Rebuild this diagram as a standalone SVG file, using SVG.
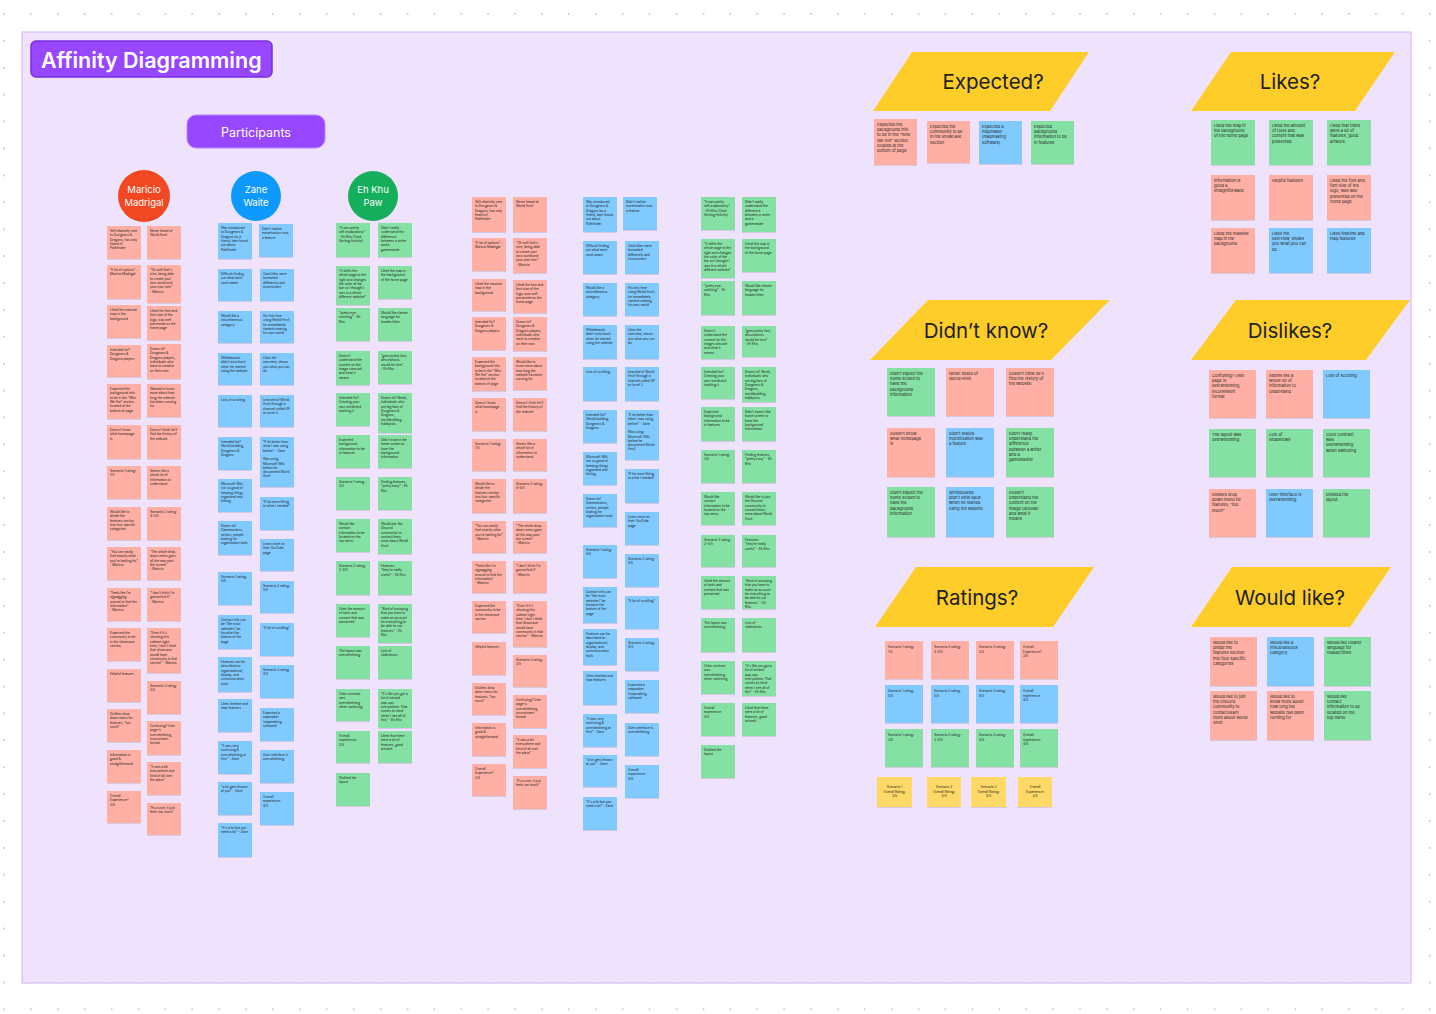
<svg xmlns="http://www.w3.org/2000/svg" width="1436" height="1014" viewBox="0 0 1436 1014">
<defs>
<pattern id="dots" width="26.9" height="26.9" patternUnits="userSpaceOnUse" x="3" y="13">
<circle cx="1" cy="1" r="0.9" fill="#c4c4c4"/>
</pattern>
<filter id="sh" x="-10%" y="-10%" width="130%" height="130%">
<feDropShadow dx="0" dy="0.6" stdDeviation="0.6" flood-color="#000" flood-opacity="0.18"/>
</filter>
</defs>
<style>
.s{fill:#FFAFA3;filter:url(#sh)}
.b{fill:#80CAFF;filter:url(#sh)}
.g{fill:#85E0A3;filter:url(#sh)}
.y{fill:#FFD966;filter:url(#sh)}
.t{font-family:Inter,"Noto Sans","Liberation Sans",sans-serif;font-size:3.2px;fill:#1e1e1e}
.tr{font-family:Inter,"Noto Sans","Liberation Sans",sans-serif;font-size:4.1px;fill:#1e1e1e}
.hd{font-family:Inter,"Noto Sans","Liberation Sans",sans-serif;font-size:20.5px;fill:#1e1e1e;text-anchor:middle}
.par{fill:#FFCD29}
.cn{font-family:Inter,"Noto Sans","Liberation Sans",sans-serif;font-size:9.5px;fill:#fff;text-anchor:middle}
</style>
<rect width="1436" height="1014" fill="#ffffff"/>
<rect width="1436" height="1014" fill="url(#dots)"/>
<rect x="22" y="32" width="1389" height="951" fill="#EFE2FD" stroke="#D7BDF9" stroke-width="1.2"/>

<g id="title">
<rect x="31" y="41" width="241" height="36" rx="5" fill="#9747FF" stroke="#7A2EE0" stroke-width="1.5"/>
<text x="41" y="68" font-family="Inter,'Noto Sans','Liberation Sans',sans-serif" font-size="21.5" font-weight="600" fill="#fff">Affinity Diagramming</text>
</g>
<g id="participants">
<rect x="187" y="115" width="138" height="33" rx="9" fill="#9747FF" stroke="#B98AFF" stroke-width="1"/>
<text x="256" y="136.5" font-family="Inter,'Noto Sans','Liberation Sans',sans-serif" font-size="12.5" fill="#fff" text-anchor="middle">Participants</text>
</g>
<g id="p-maricio"><circle cx="144" cy="196" r="26" fill="#F24822"/><text class="cn"><tspan x="144" y="193">Maricio</tspan><tspan x="144" y="206">Madrigal</tspan></text></g>
<g id="p-zane"><circle cx="256" cy="196" r="25" fill="#0D99FF"/><text class="cn"><tspan x="256" y="193">Zane</tspan><tspan x="256" y="206">Waite</tspan></text></g>
<g id="p-ehkhu"><circle cx="373" cy="196" r="25" fill="#14AE5C"/><text class="cn"><tspan x="373" y="193">Eh Khu</tspan><tspan x="373" y="206">Paw</tspan></text></g>

<g id="connectors"></g>

<!-- Column 1 Maricio -->
<g id="c1l1" transform="translate(107,226)"><rect class="s" width="34" height="33"/><text class="t"><tspan x="3" y="6">Still relatively new</tspan><tspan x="3" dy="4.3">to Dungeons &amp;</tspan><tspan x="3" dy="4.3">Dragons, has only</tspan><tspan x="3" dy="4.3">heard of</tspan><tspan x="3" dy="4.3">Pathfinder</tspan></text></g>
<g id="c1r1" transform="translate(147,226)"><rect class="s" width="34" height="33"/><text class="t"><tspan x="3" y="6">Never heard of</tspan><tspan x="3" dy="4.3">World Anvil</tspan></text></g>
<g id="c1l2" transform="translate(107,265)"><rect class="s" width="34" height="34"/><text class="t"><tspan x="3" y="6">“A lot of options” -</tspan><tspan x="3" dy="4.3">Maricio Madrigal</tspan></text></g>
<g id="c1r2" transform="translate(147,265)"><rect class="s" width="34" height="38"/><text class="t"><tspan x="3" y="6">“Oh well that's</tspan><tspan x="3" dy="4.3">nice, being able</tspan><tspan x="3" dy="4.3">to create your</tspan><tspan x="3" dy="4.3">own world and</tspan><tspan x="3" dy="4.3">your own lore.”</tspan><tspan x="3" dy="4.3">- Maricio</tspan></text></g>
<g id="c1l3" transform="translate(107,305)"><rect class="s" width="34" height="33"/><text class="t"><tspan x="3" y="6">Liked the massive</tspan><tspan x="3" dy="4.3">map in the</tspan><tspan x="3" dy="4.3">background</tspan></text></g>
<g id="c1r3" transform="translate(147,306)"><rect class="s" width="34" height="34"/><text class="t"><tspan x="3" y="6">Liked the font and</tspan><tspan x="3" dy="4.3">font size of the</tspan><tspan x="3" dy="4.3">logo, was well</tspan><tspan x="3" dy="4.3">presented on the</tspan><tspan x="3" dy="4.3">home page</tspan></text></g>
<g id="c1l4" transform="translate(107,345)"><rect class="s" width="34" height="32"/><text class="t"><tspan x="3" y="6">Intended for?</tspan><tspan x="3" dy="4.3">Dungeons &amp;</tspan><tspan x="3" dy="4.3">Dragons players</tspan></text></g>
<g id="c1r4" transform="translate(147,344)"><rect class="s" width="34" height="35"/><text class="t"><tspan x="3" y="6">Drawn to?</tspan><tspan x="3" dy="4.3">Dungeons &amp;</tspan><tspan x="3" dy="4.3">Dragons players,</tspan><tspan x="3" dy="4.3">individuals who</tspan><tspan x="3" dy="4.3">want to creative</tspan><tspan x="3" dy="4.3">on their own</tspan></text></g>
<g id="c1l5" transform="translate(107,384)"><rect class="s" width="34" height="35"/><text class="t"><tspan x="3" y="6">Expected the</tspan><tspan x="3" dy="4.3">background info</tspan><tspan x="3" dy="4.3">to be in the “Who</tspan><tspan x="3" dy="4.3">We Are” section</tspan><tspan x="3" dy="4.3">located at the</tspan><tspan x="3" dy="4.3">bottom of page</tspan></text></g>
<g id="c1r5" transform="translate(147,384)"><rect class="s" width="34" height="33"/><text class="t"><tspan x="3" y="6">Wanted to know</tspan><tspan x="3" dy="4.3">more about how</tspan><tspan x="3" dy="4.3">long the website</tspan><tspan x="3" dy="4.3">has been running</tspan><tspan x="3" dy="4.3">for</tspan></text></g>
<g id="c1l6" transform="translate(107,425)"><rect class="s" width="34" height="34"/><text class="t"><tspan x="3" y="6">Doesn't know</tspan><tspan x="3" dy="4.3">what homepage</tspan><tspan x="3" dy="4.3">is</tspan></text></g>
<g id="c1r6" transform="translate(147,425)"><rect class="s" width="34" height="34"/><text class="t"><tspan x="3" y="6">Doesn't think he'll</tspan><tspan x="3" dy="4.3">find the history of</tspan><tspan x="3" dy="4.3">the website</tspan></text></g>
<g id="c1l7" transform="translate(107,466)"><rect class="s" width="34" height="33"/><text class="t"><tspan x="3" y="6">Scenario 1 rating:</tspan><tspan x="3" dy="4.3">1/5</tspan></text></g>
<g id="c1r7" transform="translate(147,466)"><rect class="s" width="34" height="33"/><text class="t"><tspan x="3" y="6">Seems like a</tspan><tspan x="3" dy="4.3">whole lot of</tspan><tspan x="3" dy="4.3">information to</tspan><tspan x="3" dy="4.3">understand</tspan></text></g>
<g id="c1l8" transform="translate(107,507)"><rect class="s" width="34" height="33"/><text class="t"><tspan x="3" y="6">Would like to</tspan><tspan x="3" dy="4.3">divide the</tspan><tspan x="3" dy="4.3">features section</tspan><tspan x="3" dy="4.3">into four specific</tspan><tspan x="3" dy="4.3">categories</tspan></text></g>
<g id="c1r8" transform="translate(147,507)"><rect class="s" width="34" height="33"/><text class="t"><tspan x="3" y="6">Scenario 2 rating:</tspan><tspan x="3" dy="4.3">4-5/5</tspan></text></g>
<g id="c1l9" transform="translate(107,547)"><rect class="s" width="34" height="33"/><text class="t"><tspan x="3" y="6">“You can easily</tspan><tspan x="3" dy="4.3">find exactly what</tspan><tspan x="3" dy="4.3">you're looking for”</tspan><tspan x="3" dy="4.3">- Maricio</tspan></text></g>
<g id="c1r9" transform="translate(147,547)"><rect class="s" width="34" height="33"/><text class="t"><tspan x="3" y="6">“The whole drop-</tspan><tspan x="3" dy="4.3">down menu goes</tspan><tspan x="3" dy="4.3">all the way past</tspan><tspan x="3" dy="4.3">the screen”</tspan><tspan x="3" dy="4.3">- Maricio</tspan></text></g>
<g id="c1l10" transform="translate(107,588)"><rect class="s" width="34" height="33"/><text class="t"><tspan x="3" y="6">“Feels like I'm</tspan><tspan x="3" dy="4.3">zigzagging</tspan><tspan x="3" dy="4.3">around to find the</tspan><tspan x="3" dy="4.3">information”</tspan><tspan x="3" dy="4.3">- Maricio</tspan></text></g>
<g id="c1r10" transform="translate(147,588)"><rect class="s" width="34" height="33"/><text class="t"><tspan x="3" y="6">“I don't think I'm</tspan><tspan x="3" dy="4.3">gonna find it”</tspan><tspan x="3" dy="4.3">- Maricio</tspan></text></g>
<g id="c1l11" transform="translate(107,628)"><rect class="s" width="34" height="33"/><text class="t"><tspan x="3" y="6">Expected the</tspan><tspan x="3" dy="4.3">community to be</tspan><tspan x="3" dy="4.3">in the showcase</tspan><tspan x="3" dy="4.3">section</tspan></text></g>
<g id="c1r11" transform="translate(147,628)"><rect class="s" width="34" height="45"/><text class="t"><tspan x="3" y="6">“Even if it's</tspan><tspan x="3" dy="4.3">showing this</tspan><tspan x="3" dy="4.3">subtext right</tspan><tspan x="3" dy="4.3">here, I don't think</tspan><tspan x="3" dy="4.3">that showcase</tspan><tspan x="3" dy="4.3">would have</tspan><tspan x="3" dy="4.3">community in that</tspan><tspan x="3" dy="4.3">section” - Maricio</tspan></text></g>
<g id="c1l12" transform="translate(107,669)"><rect class="s" width="34" height="33"/><text class="t"><tspan x="3" y="6">Helpful features</tspan></text></g>
<g id="c1r12" transform="translate(147,681)"><rect class="s" width="34" height="33"/><text class="t"><tspan x="3" y="6">Scenario 3 rating:</tspan><tspan x="3" dy="4.3">3/5</tspan></text></g>
<g id="c1l13" transform="translate(107,709)"><rect class="s" width="34" height="33"/><text class="t"><tspan x="3" y="6">Dislikes drop</tspan><tspan x="3" dy="4.3">down menu for</tspan><tspan x="3" dy="4.3">features, “too</tspan><tspan x="3" dy="4.3">much”</tspan></text></g>
<g id="c1r13" transform="translate(147,721)"><rect class="s" width="34" height="34"/><text class="t"><tspan x="3" y="6">Confusing? User</tspan><tspan x="3" dy="4.3">page is</tspan><tspan x="3" dy="4.3">overwhelming,</tspan><tspan x="3" dy="4.3">inconsistent</tspan><tspan x="3" dy="4.3">format</tspan></text></g>
<g id="c1l14" transform="translate(107,750)"><rect class="s" width="34" height="33"/><text class="t"><tspan x="3" y="6">Information is</tspan><tspan x="3" dy="4.3">good &amp;</tspan><tspan x="3" dy="4.3">straightforward</tspan></text></g>
<g id="c1r14" transform="translate(147,762)"><rect class="s" width="34" height="33"/><text class="t"><tspan x="3" y="6">“It was a bit</tspan><tspan x="3" dy="4.3">everywhere and</tspan><tspan x="3" dy="4.3">kind of all over</tspan><tspan x="3" dy="4.3">the place”</tspan></text></g>
<g id="c1l15" transform="translate(107,791)"><rect class="s" width="34" height="32"/><text class="t"><tspan x="3" y="6">Overall</tspan><tspan x="3" dy="4.3">Experience?</tspan><tspan x="3" dy="4.3">3/5</tspan></text></g>
<g id="c1r15" transform="translate(147,803)"><rect class="s" width="34" height="32"/><text class="t"><tspan x="3" y="6">“As a user, it just</tspan><tspan x="3" dy="4.3">feels too much”</tspan></text></g>

<!-- Column 2 Zane -->
<g id="c2l1" transform="translate(218,223)"><rect class="b" width="34" height="36"/><text class="t"><tspan x="3" y="6">Was introduced</tspan><tspan x="3" dy="4.3">to Dungeons &amp;</tspan><tspan x="3" dy="4.3">Dragons by a</tspan><tspan x="3" dy="4.3">friend, later found</tspan><tspan x="3" dy="4.3">out about</tspan><tspan x="3" dy="4.3">Pathfinder</tspan></text></g>
<g id="c2r1" transform="translate(259,224)"><rect class="b" width="34" height="33"/><text class="t"><tspan x="3" y="6">Didn't realize</tspan><tspan x="3" dy="4.3">monetization was</tspan><tspan x="3" dy="4.3">a feature</tspan></text></g>
<g id="c2l2" transform="translate(218,269)"><rect class="b" width="34" height="32"/><text class="t"><tspan x="3" y="6">Difficult finding</tspan><tspan x="3" dy="4.3">out what each</tspan><tspan x="3" dy="4.3">card meant</tspan></text></g>
<g id="c2r2" transform="translate(260,269)"><rect class="b" width="34" height="32"/><text class="t"><tspan x="3" y="6">Card titles were</tspan><tspan x="3" dy="4.3">formatted</tspan><tspan x="3" dy="4.3">differently and</tspan><tspan x="3" dy="4.3">inconsistent</tspan></text></g>
<g id="c2l3" transform="translate(218,311)"><rect class="b" width="34" height="32"/><text class="t"><tspan x="3" y="6">Would like a</tspan><tspan x="3" dy="4.3">miscellaneous</tspan><tspan x="3" dy="4.3">category</tspan></text></g>
<g id="c2r3" transform="translate(260,311)"><rect class="b" width="34" height="32"/><text class="t"><tspan x="3" y="6">His first time</tspan><tspan x="3" dy="4.3">using World Anvil,</tspan><tspan x="3" dy="4.3">he immediately</tspan><tspan x="3" dy="4.3">started creating</tspan><tspan x="3" dy="4.3">his own world</tspan></text></g>
<g id="c2l4" transform="translate(218,353)"><rect class="b" width="34" height="32"/><text class="t"><tspan x="3" y="6">Whiteboards</tspan><tspan x="3" dy="4.3">didn't exist back</tspan><tspan x="3" dy="4.3">when he started</tspan><tspan x="3" dy="4.3">using the website</tspan></text></g>
<g id="c2r4" transform="translate(260,353)"><rect class="b" width="34" height="32"/><text class="t"><tspan x="3" y="6">Likes the</tspan><tspan x="3" dy="4.3">overview, shows</tspan><tspan x="3" dy="4.3">you what you can</tspan><tspan x="3" dy="4.3">do</tspan></text></g>
<g id="c2l5" transform="translate(218,395)"><rect class="b" width="34" height="32"/><text class="t"><tspan x="3" y="6">Lots of scrolling</tspan></text></g>
<g id="c2r5" transform="translate(260,395)"><rect class="b" width="34" height="32"/><text class="t"><tspan x="3" y="6">Learned of World</tspan><tspan x="3" dy="4.3">Anvil through a</tspan><tspan x="3" dy="4.3">channel called XP</tspan><tspan x="3" dy="4.3">to Level 3</tspan></text></g>
<g id="c2l6" transform="translate(218,437)"><rect class="b" width="34" height="33"/><text class="t"><tspan x="3" y="6">Intended for?</tspan><tspan x="3" dy="4.3">World-building,</tspan><tspan x="3" dy="4.3">Dungeons &amp;</tspan><tspan x="3" dy="4.3">Dragons</tspan></text></g>
<g id="c2r6" transform="translate(260,437)"><rect class="b" width="34" height="50"/><text class="t"><tspan x="3" y="6">“A lot better than</tspan><tspan x="3" dy="4.3">what I was using</tspan><tspan x="3" dy="4.3">before” - Zane</tspan><tspan x="3" dy="8.6">Was using</tspan><tspan x="3" dy="4.3">Microsoft Wiki</tspan><tspan x="3" dy="4.3">before he</tspan><tspan x="3" dy="4.3">discovered World</tspan><tspan x="3" dy="4.3">Anvil</tspan></text></g>
<g id="c2l7" transform="translate(218,479)"><rect class="b" width="34" height="33"/><text class="t"><tspan x="3" y="6">Microsoft Wiki,</tspan><tspan x="3" dy="4.3">not so good at</tspan><tspan x="3" dy="4.3">keeping things</tspan><tspan x="3" dy="4.3">organized and</tspan><tspan x="3" dy="4.3">linking</tspan></text></g>
<g id="c2r7" transform="translate(260,497)"><rect class="b" width="34" height="33"/><text class="t"><tspan x="3" y="6">“A lot more fitting</tspan><tspan x="3" dy="4.3">to what I needed”</tspan></text></g>
<g id="c2l8" transform="translate(218,521)"><rect class="b" width="34" height="34"/><text class="t"><tspan x="3" y="6">Drawn to?</tspan><tspan x="3" dy="4.3">Gamemasters,</tspan><tspan x="3" dy="4.3">writers, people</tspan><tspan x="3" dy="4.3">looking for</tspan><tspan x="3" dy="4.3">organization tools</tspan></text></g>
<g id="c2r8" transform="translate(260,539)"><rect class="b" width="34" height="32"/><text class="t"><tspan x="3" y="6">Learn more on</tspan><tspan x="3" dy="4.3">their YouTube</tspan><tspan x="3" dy="4.3">page</tspan></text></g>
<g id="c2l9" transform="translate(218,572)"><rect class="b" width="34" height="33"/><text class="t"><tspan x="3" y="6">Scenario 1 rating:</tspan><tspan x="3" dy="4.3">5/5</tspan></text></g>
<g id="c2r9" transform="translate(260,581)"><rect class="b" width="34" height="32"/><text class="t"><tspan x="3" y="6">Scenario 2 rating:</tspan><tspan x="3" dy="4.3">5/5</tspan></text></g>
<g id="c2l10" transform="translate(218,615)"><rect class="b" width="34" height="34"/><text class="t"><tspan x="3" y="6">Contact info can</tspan><tspan x="3" dy="4.3">be “like most</tspan><tspan x="3" dy="4.3">websites” be</tspan><tspan x="3" dy="4.3">found at the</tspan><tspan x="3" dy="4.3">bottom of the</tspan><tspan x="3" dy="4.3">page</tspan></text></g>
<g id="c2r10" transform="translate(260,623)"><rect class="b" width="34" height="33"/><text class="t"><tspan x="3" y="6">“A lot of scrolling”</tspan></text></g>
<g id="c2l11" transform="translate(218,657)"><rect class="b" width="34" height="35"/><text class="t"><tspan x="3" y="6">Features can be</tspan><tspan x="3" dy="4.3">described as</tspan><tspan x="3" dy="4.3">organizational,</tspan><tspan x="3" dy="4.3">display, and</tspan><tspan x="3" dy="4.3">communication</tspan><tspan x="3" dy="4.3">tools</tspan></text></g>
<g id="c2r11" transform="translate(260,665)"><rect class="b" width="34" height="33"/><text class="t"><tspan x="3" y="6">Scenario 3 rating:</tspan><tspan x="3" dy="4.3">4/5</tspan></text></g>
<g id="c2l12" transform="translate(218,699)"><rect class="b" width="34" height="33"/><text class="t"><tspan x="3" y="6">Likes timeline and</tspan><tspan x="3" dy="4.3">map features</tspan></text></g>
<g id="c2r12" transform="translate(260,708)"><rect class="b" width="34" height="33"/><text class="t"><tspan x="3" y="6">Expected a</tspan><tspan x="3" dy="4.3">mapmaker</tspan><tspan x="3" dy="4.3">(mapmaking</tspan><tspan x="3" dy="4.3">software)</tspan></text></g>
<g id="c2l13" transform="translate(218,741)"><rect class="b" width="34" height="33"/><text class="t"><tspan x="3" y="6">“It was very</tspan><tspan x="3" dy="4.3">confusing &amp;</tspan><tspan x="3" dy="4.3">overwhelming at</tspan><tspan x="3" dy="4.3">first” - Zane</tspan></text></g>
<g id="c2r13" transform="translate(260,750)"><rect class="b" width="34" height="33"/><text class="t"><tspan x="3" y="6">User-interface is</tspan><tspan x="3" dy="4.3">overwhelming</tspan></text></g>
<g id="c2l14" transform="translate(218,782)"><rect class="b" width="34" height="33"/><text class="t"><tspan x="3" y="6">“a lot gets thrown</tspan><tspan x="3" dy="4.3">at you” - Zane</tspan></text></g>
<g id="c2r14" transform="translate(260,792)"><rect class="b" width="34" height="33"/><text class="t"><tspan x="3" y="6">Overall</tspan><tspan x="3" dy="4.3">experience:</tspan><tspan x="3" dy="4.3">4/5</tspan></text></g>
<g id="c2l15" transform="translate(218,823)"><rect class="b" width="34" height="34"/><text class="t"><tspan x="3" y="6">“It's a lot but you</tspan><tspan x="3" dy="4.3">need a lot” - Zane</tspan></text></g>

<!-- Column 3 Eh Khu -->
<g id="c3l1" transform="translate(336,223)"><rect class="g" width="34" height="34"/><text class="t"><tspan x="3" y="6">“It was pretty</tspan><tspan x="3" dy="4.3">self-explanatory”</tspan><tspan x="3" dy="4.3">- Eh Khu (Card</tspan><tspan x="3" dy="4.3">Sorting Activity)</tspan></text></g>
<g id="c3r1" transform="translate(378,223)"><rect class="g" width="34" height="34"/><text class="t"><tspan x="3" y="6">Didn't really</tspan><tspan x="3" dy="4.3">understand the</tspan><tspan x="3" dy="4.3">difference</tspan><tspan x="3" dy="4.3">between a writer</tspan><tspan x="3" dy="4.3">and a</tspan><tspan x="3" dy="4.3">gamemaster</tspan></text></g>
<g id="c3l2" transform="translate(336,266)"><rect class="g" width="34" height="39"/><text class="t"><tspan x="3" y="6">“It shifts the</tspan><tspan x="3" dy="4.3">whole page to the</tspan><tspan x="3" dy="4.3">right and changes</tspan><tspan x="3" dy="4.3">the color of the</tspan><tspan x="3" dy="4.3">bar so I thought I</tspan><tspan x="3" dy="4.3">was in a whole</tspan><tspan x="3" dy="4.3">different website”</tspan></text></g>
<g id="c3r2" transform="translate(378,266)"><rect class="g" width="34" height="33"/><text class="t"><tspan x="3" y="6">Liked the map in</tspan><tspan x="3" dy="4.3">the background</tspan><tspan x="3" dy="4.3">of the home page</tspan></text></g>
<g id="c3l3" transform="translate(336,308)"><rect class="g" width="34" height="33"/><text class="t"><tspan x="3" y="6">“pretty eye-</tspan><tspan x="3" dy="4.3">catching” - Eh</tspan><tspan x="3" dy="4.3">Khu</tspan></text></g>
<g id="c3r3" transform="translate(378,308)"><rect class="g" width="34" height="33"/><text class="t"><tspan x="3" y="6">Would like clearer</tspan><tspan x="3" dy="4.3">language for</tspan><tspan x="3" dy="4.3">header/titles</tspan></text></g>
<g id="c3l4" transform="translate(336,351)"><rect class="g" width="34" height="34"/><text class="t"><tspan x="3" y="6">Doesn't</tspan><tspan x="3" dy="4.3">understand the</tspan><tspan x="3" dy="4.3">content on the</tspan><tspan x="3" dy="4.3">image carousel</tspan><tspan x="3" dy="4.3">and what it</tspan><tspan x="3" dy="4.3">means</tspan></text></g>
<g id="c3r4" transform="translate(378,351)"><rect class="g" width="34" height="33"/><text class="t"><tspan x="3" y="6">“goes pretty fast,</tspan><tspan x="3" dy="4.3">descriptions</tspan><tspan x="3" dy="4.3">would be nice”</tspan><tspan x="3" dy="4.3">- Eh Khu</tspan></text></g>
<g id="c3l5" transform="translate(336,393)"><rect class="g" width="34" height="33"/><text class="t"><tspan x="3" y="6">Intended for?</tspan><tspan x="3" dy="4.3">Creating your</tspan><tspan x="3" dy="4.3">own world and</tspan><tspan x="3" dy="4.3">tracking it</tspan></text></g>
<g id="c3r5" transform="translate(378,393)"><rect class="g" width="34" height="40"/><text class="t"><tspan x="3" y="6">Drawn to? Nerds,</tspan><tspan x="3" dy="4.3">individuals who</tspan><tspan x="3" dy="4.3">are big fans of</tspan><tspan x="3" dy="4.3">Dungeons &amp;</tspan><tspan x="3" dy="4.3">Dragons,</tspan><tspan x="3" dy="4.3">worldbuilding</tspan><tspan x="3" dy="4.3">hobbyists</tspan></text></g>
<g id="c3l6" transform="translate(336,435)"><rect class="g" width="34" height="33"/><text class="t"><tspan x="3" y="6">Expected</tspan><tspan x="3" dy="4.3">background</tspan><tspan x="3" dy="4.3">information to be</tspan><tspan x="3" dy="4.3">in features</tspan></text></g>
<g id="c3r6" transform="translate(378,435)"><rect class="g" width="34" height="33"/><text class="t"><tspan x="3" y="6">Didn't expect the</tspan><tspan x="3" dy="4.3">home screen to</tspan><tspan x="3" dy="4.3">have the</tspan><tspan x="3" dy="4.3">background</tspan><tspan x="3" dy="4.3">information</tspan></text></g>
<g id="c3l7" transform="translate(336,477)"><rect class="g" width="34" height="33"/><text class="t"><tspan x="3" y="6">Scenario 1 rating:</tspan><tspan x="3" dy="4.3">3/5</tspan></text></g>
<g id="c3r7" transform="translate(378,477)"><rect class="g" width="34" height="33"/><text class="t"><tspan x="3" y="6">Finding features,</tspan><tspan x="3" dy="4.3">“pretty easy” - Eh</tspan><tspan x="3" dy="4.3">Khu</tspan></text></g>
<g id="c3l8" transform="translate(336,519)"><rect class="g" width="34" height="33"/><text class="t"><tspan x="3" y="6">Would like</tspan><tspan x="3" dy="4.3">contact</tspan><tspan x="3" dy="4.3">information to be</tspan><tspan x="3" dy="4.3">located on the</tspan><tspan x="3" dy="4.3">top menu</tspan></text></g>
<g id="c3r8" transform="translate(378,519)"><rect class="g" width="34" height="35"/><text class="t"><tspan x="3" y="6">Would join the</tspan><tspan x="3" dy="4.3">Discord</tspan><tspan x="3" dy="4.3">community to</tspan><tspan x="3" dy="4.3">contact/learn</tspan><tspan x="3" dy="4.3">more about World</tspan><tspan x="3" dy="4.3">Anvil</tspan></text></g>
<g id="c3l9" transform="translate(336,561)"><rect class="g" width="34" height="34"/><text class="t"><tspan x="3" y="6">Scenario 2 rating:</tspan><tspan x="3" dy="4.3">3-4/5</tspan></text></g>
<g id="c3r9" transform="translate(378,561)"><rect class="g" width="34" height="34"/><text class="t"><tspan x="3" y="6">Features:</tspan><tspan x="3" dy="4.3">“they're really</tspan><tspan x="3" dy="4.3">useful” - Eh Khu</tspan></text></g>
<g id="c3l10" transform="translate(336,604)"><rect class="g" width="34" height="33"/><text class="t"><tspan x="3" y="6">Likes the amount</tspan><tspan x="3" dy="4.3">of tools and</tspan><tspan x="3" dy="4.3">content that was</tspan><tspan x="3" dy="4.3">presented</tspan></text></g>
<g id="c3r10" transform="translate(378,604)"><rect class="g" width="34" height="39"/><text class="t"><tspan x="3" y="6">“Kind of annoying</tspan><tspan x="3" dy="4.3">that you have to</tspan><tspan x="3" dy="4.3">make an account</tspan><tspan x="3" dy="4.3">for everything to</tspan><tspan x="3" dy="4.3">be able to use</tspan><tspan x="3" dy="4.3">features” - Eh</tspan><tspan x="3" dy="4.3">Khu</tspan></text></g>
<g id="c3l11" transform="translate(336,646)"><rect class="g" width="34" height="33"/><text class="t"><tspan x="3" y="6">The layout was</tspan><tspan x="3" dy="4.3">overwhelming</tspan></text></g>
<g id="c3r11" transform="translate(378,646)"><rect class="g" width="34" height="33"/><text class="t"><tspan x="3" y="6">Lots of</tspan><tspan x="3" dy="4.3">slideshows</tspan></text></g>
<g id="c3l12" transform="translate(336,689)"><rect class="g" width="34" height="32"/><text class="t"><tspan x="3" y="6">Color contrast</tspan><tspan x="3" dy="4.3">was</tspan><tspan x="3" dy="4.3">overwhelming</tspan><tspan x="3" dy="4.3">when switching</tspan></text></g>
<g id="c3r12" transform="translate(378,689)"><rect class="g" width="34" height="39"/><text class="t"><tspan x="3" y="6">“It's like you got a</tspan><tspan x="3" dy="4.3">lot of ad and</tspan><tspan x="3" dy="4.3">pop-ups</tspan><tspan x="3" dy="4.3">everywhere. That</tspan><tspan x="3" dy="4.3">comes to mind</tspan><tspan x="3" dy="4.3">when I see all of</tspan><tspan x="3" dy="4.3">this” - Eh Khu</tspan></text></g>
<g id="c3l13" transform="translate(336,731)"><rect class="g" width="34" height="32"/><text class="t"><tspan x="3" y="6">Overall</tspan><tspan x="3" dy="4.3">experience:</tspan><tspan x="3" dy="4.3">3/5</tspan></text></g>
<g id="c3r13" transform="translate(378,731)"><rect class="g" width="34" height="32"/><text class="t"><tspan x="3" y="6">Liked that there</tspan><tspan x="3" dy="4.3">were a lot of</tspan><tspan x="3" dy="4.3">features, good</tspan><tspan x="3" dy="4.3">artwork</tspan></text></g>
<g id="c3l14" transform="translate(336,773)"><rect class="g" width="34" height="33"/><text class="t"><tspan x="3" y="6">Disliked the</tspan><tspan x="3" dy="4.3">layout</tspan></text></g>

<!-- Column 4 salmon copy -->
<g id="c4l1" transform="translate(472,197)"><rect class="s" width="34" height="35"/><text class="t"><tspan x="3" y="6">Still relatively new</tspan><tspan x="3" dy="4.3">to Dungeons &amp;</tspan><tspan x="3" dy="4.3">Dragons, has only</tspan><tspan x="3" dy="4.3">heard of</tspan><tspan x="3" dy="4.3">Pathfinder</tspan></text></g>
<g id="c4r1" transform="translate(513,197)"><rect class="s" width="34" height="35"/><text class="t"><tspan x="3" y="6">Never heard of</tspan><tspan x="3" dy="4.3">World Anvil</tspan></text></g>
<g id="c4l2" transform="translate(472,238)"><rect class="s" width="34" height="33"/><text class="t"><tspan x="3" y="6">“A lot of options” -</tspan><tspan x="3" dy="4.3">Maricio Madrigal</tspan></text></g>
<g id="c4r2" transform="translate(513,238)"><rect class="s" width="34" height="35"/><text class="t"><tspan x="3" y="6">“Oh well that's</tspan><tspan x="3" dy="4.3">nice, being able</tspan><tspan x="3" dy="4.3">to create your</tspan><tspan x="3" dy="4.3">own world and</tspan><tspan x="3" dy="4.3">your own lore.”</tspan><tspan x="3" dy="4.3">- Maricio</tspan></text></g>
<g id="c4l3" transform="translate(472,279)"><rect class="s" width="34" height="32"/><text class="t"><tspan x="3" y="6">Liked the massive</tspan><tspan x="3" dy="4.3">map in the</tspan><tspan x="3" dy="4.3">background</tspan></text></g>
<g id="c4r3" transform="translate(513,280)"><rect class="s" width="34" height="33"/><text class="t"><tspan x="3" y="6">Liked the font and</tspan><tspan x="3" dy="4.3">font size of the</tspan><tspan x="3" dy="4.3">logo, was well</tspan><tspan x="3" dy="4.3">presented on the</tspan><tspan x="3" dy="4.3">home page</tspan></text></g>
<g id="c4l4" transform="translate(472,317)"><rect class="s" width="34" height="33"/><text class="t"><tspan x="3" y="6">Intended for?</tspan><tspan x="3" dy="4.3">Dungeons &amp;</tspan><tspan x="3" dy="4.3">Dragons players</tspan></text></g>
<g id="c4r4" transform="translate(513,317)"><rect class="s" width="34" height="34"/><text class="t"><tspan x="3" y="6">Drawn to?</tspan><tspan x="3" dy="4.3">Dungeons &amp;</tspan><tspan x="3" dy="4.3">Dragons players,</tspan><tspan x="3" dy="4.3">individuals who</tspan><tspan x="3" dy="4.3">want to creative</tspan><tspan x="3" dy="4.3">on their own</tspan></text></g>
<g id="c4l5" transform="translate(472,357)"><rect class="s" width="34" height="34"/><text class="t"><tspan x="3" y="6">Expected the</tspan><tspan x="3" dy="4.3">background info</tspan><tspan x="3" dy="4.3">to be in the “Who</tspan><tspan x="3" dy="4.3">We Are” section</tspan><tspan x="3" dy="4.3">located at the</tspan><tspan x="3" dy="4.3">bottom of page</tspan></text></g>
<g id="c4r5" transform="translate(513,357)"><rect class="s" width="34" height="33"/><text class="t"><tspan x="3" y="6">Would like to</tspan><tspan x="3" dy="4.3">know more about</tspan><tspan x="3" dy="4.3">how long the</tspan><tspan x="3" dy="4.3">website has been</tspan><tspan x="3" dy="4.3">running for</tspan></text></g>
<g id="c4l6" transform="translate(472,398)"><rect class="s" width="34" height="33"/><text class="t"><tspan x="3" y="6">Doesn't know</tspan><tspan x="3" dy="4.3">what homepage</tspan><tspan x="3" dy="4.3">is</tspan></text></g>
<g id="c4r6" transform="translate(513,398)"><rect class="s" width="34" height="33"/><text class="t"><tspan x="3" y="6">Doesn't think he'll</tspan><tspan x="3" dy="4.3">find the history of</tspan><tspan x="3" dy="4.3">the website</tspan></text></g>
<g id="c4l7" transform="translate(472,439)"><rect class="s" width="34" height="32"/><text class="t"><tspan x="3" y="6">Scenario 1 rating:</tspan><tspan x="3" dy="4.3">1/5</tspan></text></g>
<g id="c4r7" transform="translate(513,439)"><rect class="s" width="34" height="32"/><text class="t"><tspan x="3" y="6">Seems like a</tspan><tspan x="3" dy="4.3">whole lot of</tspan><tspan x="3" dy="4.3">information to</tspan><tspan x="3" dy="4.3">understand</tspan></text></g>
<g id="c4l8" transform="translate(472,479)"><rect class="s" width="34" height="34"/><text class="t"><tspan x="3" y="6">Would like to</tspan><tspan x="3" dy="4.3">divide the</tspan><tspan x="3" dy="4.3">features section</tspan><tspan x="3" dy="4.3">into four specific</tspan><tspan x="3" dy="4.3">categories</tspan></text></g>
<g id="c4r8" transform="translate(513,479)"><rect class="s" width="34" height="34"/><text class="t"><tspan x="3" y="6">Scenario 2 rating:</tspan><tspan x="3" dy="4.3">4-5/5</tspan></text></g>
<g id="c4l9" transform="translate(472,521)"><rect class="s" width="34" height="32"/><text class="t"><tspan x="3" y="6">“You can easily</tspan><tspan x="3" dy="4.3">find exactly what</tspan><tspan x="3" dy="4.3">you're looking for”</tspan><tspan x="3" dy="4.3">- Maricio</tspan></text></g>
<g id="c4r9" transform="translate(513,521)"><rect class="s" width="34" height="32"/><text class="t"><tspan x="3" y="6">“The whole drop-</tspan><tspan x="3" dy="4.3">down menu goes</tspan><tspan x="3" dy="4.3">all the way past</tspan><tspan x="3" dy="4.3">the screen”</tspan><tspan x="3" dy="4.3">- Maricio</tspan></text></g>
<g id="c4l10" transform="translate(472,561)"><rect class="s" width="34" height="32"/><text class="t"><tspan x="3" y="6">“Feels like I'm</tspan><tspan x="3" dy="4.3">zigzagging</tspan><tspan x="3" dy="4.3">around to find the</tspan><tspan x="3" dy="4.3">information”</tspan><tspan x="3" dy="4.3">- Maricio</tspan></text></g>
<g id="c4r10" transform="translate(513,561)"><rect class="s" width="34" height="32"/><text class="t"><tspan x="3" y="6">“I don't think I'm</tspan><tspan x="3" dy="4.3">gonna find it”</tspan><tspan x="3" dy="4.3">- Maricio</tspan></text></g>
<g id="c4l11" transform="translate(472,601)"><rect class="s" width="34" height="32"/><text class="t"><tspan x="3" y="6">Expected the</tspan><tspan x="3" dy="4.3">community to be</tspan><tspan x="3" dy="4.3">in the showcase</tspan><tspan x="3" dy="4.3">section</tspan></text></g>
<g id="c4r11" transform="translate(513,601)"><rect class="s" width="34" height="46"/><text class="t"><tspan x="3" y="6">“Even if it's</tspan><tspan x="3" dy="4.3">showing this</tspan><tspan x="3" dy="4.3">subtext right</tspan><tspan x="3" dy="4.3">here, I don't think</tspan><tspan x="3" dy="4.3">that showcase</tspan><tspan x="3" dy="4.3">would have</tspan><tspan x="3" dy="4.3">community in that</tspan><tspan x="3" dy="4.3">section” - Maricio</tspan></text></g>
<g id="c4l12" transform="translate(472,642)"><rect class="s" width="34" height="33"/><text class="t"><tspan x="3" y="6">Helpful features</tspan></text></g>
<g id="c4r12" transform="translate(513,655)"><rect class="s" width="34" height="32"/><text class="t"><tspan x="3" y="6">Scenario 3 rating:</tspan><tspan x="3" dy="4.3">3/5</tspan></text></g>
<g id="c4l13" transform="translate(472,683)"><rect class="s" width="34" height="32"/><text class="t"><tspan x="3" y="6">Dislikes drop</tspan><tspan x="3" dy="4.3">down menu for</tspan><tspan x="3" dy="4.3">features, “too</tspan><tspan x="3" dy="4.3">much”</tspan></text></g>
<g id="c4r13" transform="translate(513,695)"><rect class="s" width="34" height="33"/><text class="t"><tspan x="3" y="6">Confusing? User</tspan><tspan x="3" dy="4.3">page is</tspan><tspan x="3" dy="4.3">overwhelming,</tspan><tspan x="3" dy="4.3">inconsistent</tspan><tspan x="3" dy="4.3">format</tspan></text></g>
<g id="c4l14" transform="translate(472,723)"><rect class="s" width="34" height="33"/><text class="t"><tspan x="3" y="6">Information is</tspan><tspan x="3" dy="4.3">good &amp;</tspan><tspan x="3" dy="4.3">straightforward</tspan></text></g>
<g id="c4r14" transform="translate(513,735)"><rect class="s" width="34" height="33"/><text class="t"><tspan x="3" y="6">“It was a bit</tspan><tspan x="3" dy="4.3">everywhere and</tspan><tspan x="3" dy="4.3">kind of all over</tspan><tspan x="3" dy="4.3">the place”</tspan></text></g>
<g id="c4l15" transform="translate(472,764)"><rect class="s" width="34" height="32"/><text class="t"><tspan x="3" y="6">Overall</tspan><tspan x="3" dy="4.3">Experience?</tspan><tspan x="3" dy="4.3">3/5</tspan></text></g>
<g id="c4r15" transform="translate(513,776)"><rect class="s" width="34" height="33"/><text class="t"><tspan x="3" y="6">“As a user, it just</tspan><tspan x="3" dy="4.3">feels too much”</tspan></text></g>

<!-- Column 5 blue copy -->
<g id="c5l1" transform="translate(583,197)"><rect class="b" width="34" height="35"/><text class="t"><tspan x="3" y="6">Was introduced</tspan><tspan x="3" dy="4.3">to Dungeons &amp;</tspan><tspan x="3" dy="4.3">Dragons by a</tspan><tspan x="3" dy="4.3">friend, later found</tspan><tspan x="3" dy="4.3">out about</tspan><tspan x="3" dy="4.3">Pathfinder</tspan></text></g>
<g id="c5r1" transform="translate(623,197)"><rect class="b" width="34" height="33"/><text class="t"><tspan x="3" y="6">Didn't realize</tspan><tspan x="3" dy="4.3">monetization was</tspan><tspan x="3" dy="4.3">a feature</tspan></text></g>
<g id="c5l2" transform="translate(583,241)"><rect class="b" width="34" height="33"/><text class="t"><tspan x="3" y="6">Difficult finding</tspan><tspan x="3" dy="4.3">out what each</tspan><tspan x="3" dy="4.3">card meant</tspan></text></g>
<g id="c5r2" transform="translate(625,241)"><rect class="b" width="34" height="33"/><text class="t"><tspan x="3" y="6">Card titles were</tspan><tspan x="3" dy="4.3">formatted</tspan><tspan x="3" dy="4.3">differently and</tspan><tspan x="3" dy="4.3">inconsistent</tspan></text></g>
<g id="c5l3" transform="translate(583,283)"><rect class="b" width="34" height="33"/><text class="t"><tspan x="3" y="6">Would like a</tspan><tspan x="3" dy="4.3">miscellaneous</tspan><tspan x="3" dy="4.3">category</tspan></text></g>
<g id="c5r3" transform="translate(625,283)"><rect class="b" width="34" height="33"/><text class="t"><tspan x="3" y="6">His first time</tspan><tspan x="3" dy="4.3">using World Anvil,</tspan><tspan x="3" dy="4.3">he immediately</tspan><tspan x="3" dy="4.3">started creating</tspan><tspan x="3" dy="4.3">his own world</tspan></text></g>
<g id="c5l4" transform="translate(583,325)"><rect class="b" width="34" height="34"/><text class="t"><tspan x="3" y="6">Whiteboards</tspan><tspan x="3" dy="4.3">didn't exist back</tspan><tspan x="3" dy="4.3">when he started</tspan><tspan x="3" dy="4.3">using the website</tspan></text></g>
<g id="c5r4" transform="translate(625,325)"><rect class="b" width="34" height="34"/><text class="t"><tspan x="3" y="6">Likes the</tspan><tspan x="3" dy="4.3">overview, shows</tspan><tspan x="3" dy="4.3">you what you can</tspan><tspan x="3" dy="4.3">do</tspan></text></g>
<g id="c5l5" transform="translate(583,367)"><rect class="b" width="34" height="34"/><text class="t"><tspan x="3" y="6">Lots of scrolling</tspan></text></g>
<g id="c5r5" transform="translate(625,367)"><rect class="b" width="34" height="34"/><text class="t"><tspan x="3" y="6">Learned of World</tspan><tspan x="3" dy="4.3">Anvil through a</tspan><tspan x="3" dy="4.3">channel called XP</tspan><tspan x="3" dy="4.3">to Level 3</tspan></text></g>
<g id="c5l6" transform="translate(583,410)"><rect class="b" width="34" height="33"/><text class="t"><tspan x="3" y="6">Intended for?</tspan><tspan x="3" dy="4.3">World-building,</tspan><tspan x="3" dy="4.3">Dungeons &amp;</tspan><tspan x="3" dy="4.3">Dragons</tspan></text></g>
<g id="c5r6" transform="translate(625,410)"><rect class="b" width="34" height="50"/><text class="t"><tspan x="3" y="6">“A lot better than</tspan><tspan x="3" dy="4.3">what I was using</tspan><tspan x="3" dy="4.3">before” - Zane</tspan><tspan x="3" dy="8.6">Was using</tspan><tspan x="3" dy="4.3">Microsoft Wiki</tspan><tspan x="3" dy="4.3">before he</tspan><tspan x="3" dy="4.3">discovered World</tspan><tspan x="3" dy="4.3">Anvil</tspan></text></g>
<g id="c5l7" transform="translate(583,452)"><rect class="b" width="34" height="33"/><text class="t"><tspan x="3" y="6">Microsoft Wiki,</tspan><tspan x="3" dy="4.3">not so good at</tspan><tspan x="3" dy="4.3">keeping things</tspan><tspan x="3" dy="4.3">organized and</tspan><tspan x="3" dy="4.3">linking</tspan></text></g>
<g id="c5r7" transform="translate(625,469)"><rect class="b" width="34" height="34"/><text class="t"><tspan x="3" y="6">“A lot more fitting</tspan><tspan x="3" dy="4.3">to what I needed”</tspan></text></g>
<g id="c5l8" transform="translate(583,494)"><rect class="b" width="34" height="33"/><text class="t"><tspan x="3" y="6">Drawn to?</tspan><tspan x="3" dy="4.3">Gamemasters,</tspan><tspan x="3" dy="4.3">writers, people</tspan><tspan x="3" dy="4.3">looking for</tspan><tspan x="3" dy="4.3">organization tools</tspan></text></g>
<g id="c5r8" transform="translate(625,512)"><rect class="b" width="34" height="33"/><text class="t"><tspan x="3" y="6">Learn more on</tspan><tspan x="3" dy="4.3">their YouTube</tspan><tspan x="3" dy="4.3">page</tspan></text></g>
<g id="c5l9" transform="translate(583,545)"><rect class="b" width="34" height="33"/><text class="t"><tspan x="3" y="6">Scenario 1 rating:</tspan><tspan x="3" dy="4.3">5/5</tspan></text></g>
<g id="c5r9" transform="translate(625,554)"><rect class="b" width="34" height="33"/><text class="t"><tspan x="3" y="6">Scenario 2 rating:</tspan><tspan x="3" dy="4.3">5/5</tspan></text></g>
<g id="c5l10" transform="translate(583,587)"><rect class="b" width="34" height="36"/><text class="t"><tspan x="3" y="6">Contact info can</tspan><tspan x="3" dy="4.3">be “like most</tspan><tspan x="3" dy="4.3">websites” be</tspan><tspan x="3" dy="4.3">found at the</tspan><tspan x="3" dy="4.3">bottom of the</tspan><tspan x="3" dy="4.3">page</tspan></text></g>
<g id="c5r10" transform="translate(625,596)"><rect class="b" width="34" height="33"/><text class="t"><tspan x="3" y="6">“A lot of scrolling”</tspan></text></g>
<g id="c5l11" transform="translate(583,629)"><rect class="b" width="34" height="36"/><text class="t"><tspan x="3" y="6">Features can be</tspan><tspan x="3" dy="4.3">described as</tspan><tspan x="3" dy="4.3">organizational,</tspan><tspan x="3" dy="4.3">display, and</tspan><tspan x="3" dy="4.3">communication</tspan><tspan x="3" dy="4.3">tools</tspan></text></g>
<g id="c5r11" transform="translate(625,638)"><rect class="b" width="34" height="33"/><text class="t"><tspan x="3" y="6">Scenario 3 rating:</tspan><tspan x="3" dy="4.3">4/5</tspan></text></g>
<g id="c5l12" transform="translate(583,671)"><rect class="b" width="34" height="34"/><text class="t"><tspan x="3" y="6">Likes timeline and</tspan><tspan x="3" dy="4.3">map features</tspan></text></g>
<g id="c5r12" transform="translate(625,680)"><rect class="b" width="34" height="33"/><text class="t"><tspan x="3" y="6">Expected a</tspan><tspan x="3" dy="4.3">mapmaker</tspan><tspan x="3" dy="4.3">(mapmaking</tspan><tspan x="3" dy="4.3">software)</tspan></text></g>
<g id="c5l13" transform="translate(583,714)"><rect class="b" width="34" height="33"/><text class="t"><tspan x="3" y="6">“It was very</tspan><tspan x="3" dy="4.3">confusing &amp;</tspan><tspan x="3" dy="4.3">overwhelming at</tspan><tspan x="3" dy="4.3">first” - Zane</tspan></text></g>
<g id="c5r13" transform="translate(625,723)"><rect class="b" width="34" height="33"/><text class="t"><tspan x="3" y="6">User-interface is</tspan><tspan x="3" dy="4.3">overwhelming</tspan></text></g>
<g id="c5l14" transform="translate(583,755)"><rect class="b" width="34" height="32"/><text class="t"><tspan x="3" y="6">“a lot gets thrown</tspan><tspan x="3" dy="4.3">at you” - Zane</tspan></text></g>
<g id="c5r14" transform="translate(625,765)"><rect class="b" width="34" height="33"/><text class="t"><tspan x="3" y="6">Overall</tspan><tspan x="3" dy="4.3">experience:</tspan><tspan x="3" dy="4.3">4/5</tspan></text></g>
<g id="c5l15" transform="translate(583,797)"><rect class="b" width="34" height="33"/><text class="t"><tspan x="3" y="6">“It's a lot but you</tspan><tspan x="3" dy="4.3">need a lot” - Zane</tspan></text></g>

<!-- Column 6 green copy -->
<g id="c6l1" transform="translate(701,197)"><rect class="g" width="34" height="33"/><text class="t"><tspan x="3" y="6">“It was pretty</tspan><tspan x="3" dy="4.3">self-explanatory”</tspan><tspan x="3" dy="4.3">- Eh Khu (Card</tspan><tspan x="3" dy="4.3">Sorting Activity)</tspan></text></g>
<g id="c6r1" transform="translate(742,197)"><rect class="g" width="34" height="35"/><text class="t"><tspan x="3" y="6">Didn't really</tspan><tspan x="3" dy="4.3">understand the</tspan><tspan x="3" dy="4.3">difference</tspan><tspan x="3" dy="4.3">between a writer</tspan><tspan x="3" dy="4.3">and a</tspan><tspan x="3" dy="4.3">gamemaster</tspan></text></g>
<g id="c6l2" transform="translate(701,239)"><rect class="g" width="34" height="39"/><text class="t"><tspan x="3" y="6">“It shifts the</tspan><tspan x="3" dy="4.3">whole page to the</tspan><tspan x="3" dy="4.3">right and changes</tspan><tspan x="3" dy="4.3">the color of the</tspan><tspan x="3" dy="4.3">bar so I thought I</tspan><tspan x="3" dy="4.3">was in a whole</tspan><tspan x="3" dy="4.3">different website”</tspan></text></g>
<g id="c6r2" transform="translate(742,239)"><rect class="g" width="34" height="33"/><text class="t"><tspan x="3" y="6">Liked the map in</tspan><tspan x="3" dy="4.3">the background</tspan><tspan x="3" dy="4.3">of the home page</tspan></text></g>
<g id="c6l3" transform="translate(701,281)"><rect class="g" width="34" height="34"/><text class="t"><tspan x="3" y="6">“pretty eye-</tspan><tspan x="3" dy="4.3">catching” - Eh</tspan><tspan x="3" dy="4.3">Khu</tspan></text></g>
<g id="c6r3" transform="translate(742,281)"><rect class="g" width="34" height="34"/><text class="t"><tspan x="3" y="6">Would like clearer</tspan><tspan x="3" dy="4.3">language for</tspan><tspan x="3" dy="4.3">header/titles</tspan></text></g>
<g id="c6l4" transform="translate(701,326)"><rect class="g" width="34" height="33"/><text class="t"><tspan x="3" y="6">Doesn't</tspan><tspan x="3" dy="4.3">understand the</tspan><tspan x="3" dy="4.3">content on the</tspan><tspan x="3" dy="4.3">image carousel</tspan><tspan x="3" dy="4.3">and what it</tspan><tspan x="3" dy="4.3">means</tspan></text></g>
<g id="c6r4" transform="translate(742,326)"><rect class="g" width="34" height="31"/><text class="t"><tspan x="3" y="6">“goes pretty fast,</tspan><tspan x="3" dy="4.3">descriptions</tspan><tspan x="3" dy="4.3">would be nice”</tspan><tspan x="3" dy="4.3">- Eh Khu</tspan></text></g>
<g id="c6l5" transform="translate(701,367)"><rect class="g" width="34" height="32"/><text class="t"><tspan x="3" y="6">Intended for?</tspan><tspan x="3" dy="4.3">Creating your</tspan><tspan x="3" dy="4.3">own world and</tspan><tspan x="3" dy="4.3">tracking it</tspan></text></g>
<g id="c6r5" transform="translate(742,367)"><rect class="g" width="34" height="35"/><text class="t"><tspan x="3" y="6">Drawn to? Nerds,</tspan><tspan x="3" dy="4.3">individuals who</tspan><tspan x="3" dy="4.3">are big fans of</tspan><tspan x="3" dy="4.3">Dungeons &amp;</tspan><tspan x="3" dy="4.3">Dragons,</tspan><tspan x="3" dy="4.3">worldbuilding</tspan><tspan x="3" dy="4.3">hobbyists</tspan></text></g>
<g id="c6l6" transform="translate(701,407)"><rect class="g" width="34" height="34"/><text class="t"><tspan x="3" y="6">Expected</tspan><tspan x="3" dy="4.3">background</tspan><tspan x="3" dy="4.3">information to be</tspan><tspan x="3" dy="4.3">in features</tspan></text></g>
<g id="c6r6" transform="translate(742,407)"><rect class="g" width="34" height="34"/><text class="t"><tspan x="3" y="6">Didn't expect the</tspan><tspan x="3" dy="4.3">home screen to</tspan><tspan x="3" dy="4.3">have the</tspan><tspan x="3" dy="4.3">background</tspan><tspan x="3" dy="4.3">information</tspan></text></g>
<g id="c6l7" transform="translate(701,450)"><rect class="g" width="34" height="33"/><text class="t"><tspan x="3" y="6">Scenario 1 rating:</tspan><tspan x="3" dy="4.3">3/5</tspan></text></g>
<g id="c6r7" transform="translate(742,450)"><rect class="g" width="34" height="33"/><text class="t"><tspan x="3" y="6">Finding features,</tspan><tspan x="3" dy="4.3">“pretty easy” - Eh</tspan><tspan x="3" dy="4.3">Khu</tspan></text></g>
<g id="c6l8" transform="translate(701,492)"><rect class="g" width="34" height="33"/><text class="t"><tspan x="3" y="6">Would like</tspan><tspan x="3" dy="4.3">contact</tspan><tspan x="3" dy="4.3">information to be</tspan><tspan x="3" dy="4.3">located on the</tspan><tspan x="3" dy="4.3">top menu</tspan></text></g>
<g id="c6r8" transform="translate(742,492)"><rect class="g" width="34" height="33"/><text class="t"><tspan x="3" y="6">Would like to join</tspan><tspan x="3" dy="4.3">the Discord</tspan><tspan x="3" dy="4.3">community to</tspan><tspan x="3" dy="4.3">contact/learn</tspan><tspan x="3" dy="4.3">more about World</tspan><tspan x="3" dy="4.3">Anvil</tspan></text></g>
<g id="c6l9" transform="translate(701,535)"><rect class="g" width="34" height="32"/><text class="t"><tspan x="3" y="6">Scenario 2 rating:</tspan><tspan x="3" dy="4.3">3-4/5</tspan></text></g>
<g id="c6r9" transform="translate(742,535)"><rect class="g" width="34" height="32"/><text class="t"><tspan x="3" y="6">Features:</tspan><tspan x="3" dy="4.3">“they're really</tspan><tspan x="3" dy="4.3">useful” - Eh Khu</tspan></text></g>
<g id="c6l10" transform="translate(701,576)"><rect class="g" width="34" height="33"/><text class="t"><tspan x="3" y="6">Liked the amount</tspan><tspan x="3" dy="4.3">of tools and</tspan><tspan x="3" dy="4.3">content that was</tspan><tspan x="3" dy="4.3">presented</tspan></text></g>
<g id="c6r10" transform="translate(742,576)"><rect class="g" width="34" height="33"/><text class="t"><tspan x="3" y="6">“Kind of annoying</tspan><tspan x="3" dy="4.3">that you have to</tspan><tspan x="3" dy="4.3">make an account</tspan><tspan x="3" dy="4.3">for everything to</tspan><tspan x="3" dy="4.3">be able to use</tspan><tspan x="3" dy="4.3">features” - Eh</tspan><tspan x="3" dy="4.3">Khu</tspan></text></g>
<g id="c6l11" transform="translate(701,618)"><rect class="g" width="34" height="34"/><text class="t"><tspan x="3" y="6">The layout was</tspan><tspan x="3" dy="4.3">overwhelming</tspan></text></g>
<g id="c6r11" transform="translate(742,618)"><rect class="g" width="34" height="34"/><text class="t"><tspan x="3" y="6">Lots of</tspan><tspan x="3" dy="4.3">slideshows</tspan></text></g>
<g id="c6l12" transform="translate(701,661)"><rect class="g" width="34" height="33"/><text class="t"><tspan x="3" y="6">Color contrast</tspan><tspan x="3" dy="4.3">was</tspan><tspan x="3" dy="4.3">overwhelming</tspan><tspan x="3" dy="4.3">when switching</tspan></text></g>
<g id="c6r12" transform="translate(742,661)"><rect class="g" width="34" height="35"/><text class="t"><tspan x="3" y="6">“It's like you got a</tspan><tspan x="3" dy="4.3">lot of ad and</tspan><tspan x="3" dy="4.3">pop-ups</tspan><tspan x="3" dy="4.3">everywhere. That</tspan><tspan x="3" dy="4.3">comes to mind</tspan><tspan x="3" dy="4.3">when I see all of</tspan><tspan x="3" dy="4.3">this” - Eh Khu</tspan></text></g>
<g id="c6l13" transform="translate(701,703)"><rect class="g" width="34" height="33"/><text class="t"><tspan x="3" y="6">Overall</tspan><tspan x="3" dy="4.3">experience:</tspan><tspan x="3" dy="4.3">4/5</tspan></text></g>
<g id="c6r13" transform="translate(742,703)"><rect class="g" width="34" height="33"/><text class="t"><tspan x="3" y="6">Liked that there</tspan><tspan x="3" dy="4.3">were a lot of</tspan><tspan x="3" dy="4.3">features, good</tspan><tspan x="3" dy="4.3">artwork</tspan></text></g>
<g id="c6l14" transform="translate(701,745)"><rect class="g" width="34" height="33"/><text class="t"><tspan x="3" y="6">Disliked the</tspan><tspan x="3" dy="4.3">layout</tspan></text></g>

<!-- Headers -->
<g id="h-expected"><polygon class="par" points="912,52 1089,52 1050,111 873,111"/><text class="hd" x="993" y="89">Expected?</text></g>
<g id="h-likes"><polygon class="par" points="1231,52 1395,52 1355,111 1191,111"/><text class="hd" x="1290" y="89">Likes?</text></g>
<g id="h-didnt"><polygon class="par" points="928,300 1110,300 1051,360 870,360"/><text class="hd" x="986" y="338">Didn’t know?</text></g>
<g id="h-dislikes"><polygon class="par" points="1236,300 1410,300 1366,360 1191,360"/><text class="hd" x="1290" y="338">Dislikes?</text></g>
<g id="h-ratings"><polygon class="par" points="916,567 1094,567 1053,627 875,627"/><text class="hd" x="977" y="605">Ratings?</text></g>
<g id="h-wouldlike"><polygon class="par" points="1232,567 1391,567 1350,627 1191,627"/><text class="hd" x="1290" y="605">Would like?</text></g>

<!-- Expected notes -->
<g id="e1" transform="translate(874,119)"><rect class="s" width="43" height="46"/><text class="tr"><tspan x="3" y="7">Expected the</tspan><tspan x="3" dy="5.2">background info</tspan><tspan x="3" dy="5.2">to be in the “Who</tspan><tspan x="3" dy="5.2">We Are” section</tspan><tspan x="3" dy="5.2">located at the</tspan><tspan x="3" dy="5.2">bottom of page</tspan></text></g>
<g id="e2" transform="translate(927,121)"><rect class="s" width="43" height="42"/><text class="tr"><tspan x="3" y="7">Expected the</tspan><tspan x="3" dy="5.2">community to be</tspan><tspan x="3" dy="5.2">in the showcase</tspan><tspan x="3" dy="5.2">section</tspan></text></g>
<g id="e3" transform="translate(979,121)"><rect class="b" width="43" height="43"/><text class="tr"><tspan x="3" y="7">Expected a</tspan><tspan x="3" dy="5.2">mapmaker</tspan><tspan x="3" dy="5.2">(mapmaking</tspan><tspan x="3" dy="5.2">software)</tspan></text></g>
<g id="e4" transform="translate(1031,121)"><rect class="g" width="43" height="43"/><text class="tr"><tspan x="3" y="7">Expected</tspan><tspan x="3" dy="5.2">background</tspan><tspan x="3" dy="5.2">information to be</tspan><tspan x="3" dy="5.2">in features</tspan></text></g>

<!-- Likes notes -->
<g id="lk1" transform="translate(1211,120)"><rect class="g" width="44" height="45"/><text class="tr"><tspan x="3" y="7">Liked the map in</tspan><tspan x="3" dy="5.2">the background</tspan><tspan x="3" dy="5.2">of the home page</tspan></text></g>
<g id="lk2" transform="translate(1269,120)"><rect class="g" width="44" height="45"/><text class="tr"><tspan x="3" y="7">Liked the amount</tspan><tspan x="3" dy="5.2">of tools and</tspan><tspan x="3" dy="5.2">content that was</tspan><tspan x="3" dy="5.2">presented</tspan></text></g>
<g id="lk3" transform="translate(1327,120)"><rect class="g" width="44" height="45"/><text class="tr"><tspan x="3" y="7">Liked that there</tspan><tspan x="3" dy="5.2">were a lot of</tspan><tspan x="3" dy="5.2">features, good</tspan><tspan x="3" dy="5.2">artwork</tspan></text></g>
<g id="lk4" transform="translate(1211,175)"><rect class="s" width="44" height="45"/><text class="tr"><tspan x="3" y="7">Information is</tspan><tspan x="3" dy="5.2">good &amp;</tspan><tspan x="3" dy="5.2">straightforward</tspan></text></g>
<g id="lk5" transform="translate(1269,175)"><rect class="s" width="44" height="45"/><text class="tr"><tspan x="3" y="7">Helpful features</tspan></text></g>
<g id="lk6" transform="translate(1327,175)"><rect class="s" width="44" height="45"/><text class="tr"><tspan x="3" y="7">Liked the font and</tspan><tspan x="3" dy="5.2">font size of the</tspan><tspan x="3" dy="5.2">logo, was well</tspan><tspan x="3" dy="5.2">presented on the</tspan><tspan x="3" dy="5.2">home page</tspan></text></g>
<g id="lk7" transform="translate(1211,228)"><rect class="s" width="44" height="45"/><text class="tr"><tspan x="3" y="7">Liked the massive</tspan><tspan x="3" dy="5.2">map in the</tspan><tspan x="3" dy="5.2">background</tspan></text></g>
<g id="lk8" transform="translate(1269,228)"><rect class="b" width="44" height="45"/><text class="tr"><tspan x="3" y="7">Likes the</tspan><tspan x="3" dy="5.2">overview, shows</tspan><tspan x="3" dy="5.2">you what you can</tspan><tspan x="3" dy="5.2">do</tspan></text></g>
<g id="lk9" transform="translate(1327,228)"><rect class="b" width="44" height="45"/><text class="tr"><tspan x="3" y="7">Likes timeline and</tspan><tspan x="3" dy="5.2">map features</tspan></text></g>

<!-- Didn't know notes -->
<g id="dk1" transform="translate(887,368)"><rect class="g" width="48" height="48"/><text class="tr"><tspan x="3" y="7">Didn't expect the</tspan><tspan x="3" dy="5.2">home screen to</tspan><tspan x="3" dy="5.2">have the</tspan><tspan x="3" dy="5.2">background</tspan><tspan x="3" dy="5.2">information</tspan></text></g>
<g id="dk2" transform="translate(946,368)"><rect class="s" width="48" height="48"/><text class="tr"><tspan x="3" y="7">Never heard of</tspan><tspan x="3" dy="5.2">World Anvil</tspan></text></g>
<g id="dk3" transform="translate(1006,368)"><rect class="s" width="48" height="48"/><text class="tr"><tspan x="3" y="7">Doesn't think he'll</tspan><tspan x="3" dy="5.2">find the history of</tspan><tspan x="3" dy="5.2">the website</tspan></text></g>
<g id="dk4" transform="translate(887,428)"><rect class="s" width="48" height="49"/><text class="tr"><tspan x="3" y="7">Doesn't know</tspan><tspan x="3" dy="5.2">what homepage</tspan><tspan x="3" dy="5.2">is</tspan></text></g>
<g id="dk5" transform="translate(946,428)"><rect class="b" width="48" height="49"/><text class="tr"><tspan x="3" y="7">Didn't realize</tspan><tspan x="3" dy="5.2">monetization was</tspan><tspan x="3" dy="5.2">a feature</tspan></text></g>
<g id="dk6" transform="translate(1006,428)"><rect class="g" width="48" height="49"/><text class="tr"><tspan x="3" y="7">Didn't really</tspan><tspan x="3" dy="5.2">understand the</tspan><tspan x="3" dy="5.2">difference</tspan><tspan x="3" dy="5.2">between a writer</tspan><tspan x="3" dy="5.2">and a</tspan><tspan x="3" dy="5.2">gamemaster</tspan></text></g>
<g id="dk7" transform="translate(887,487)"><rect class="g" width="48" height="50"/><text class="tr"><tspan x="3" y="7">Didn't expect the</tspan><tspan x="3" dy="5.2">home screen to</tspan><tspan x="3" dy="5.2">have the</tspan><tspan x="3" dy="5.2">background</tspan><tspan x="3" dy="5.2">information</tspan></text></g>
<g id="dk8" transform="translate(946,487)"><rect class="b" width="48" height="50"/><text class="tr"><tspan x="3" y="7">Whiteboards</tspan><tspan x="3" dy="5.2">didn't exist back</tspan><tspan x="3" dy="5.2">when he started</tspan><tspan x="3" dy="5.2">using the website</tspan></text></g>
<g id="dk9" transform="translate(1006,487)"><rect class="g" width="48" height="50"/><text class="tr"><tspan x="3" y="7">Doesn't</tspan><tspan x="3" dy="5.2">understand the</tspan><tspan x="3" dy="5.2">content on the</tspan><tspan x="3" dy="5.2">image carousel</tspan><tspan x="3" dy="5.2">and what it</tspan><tspan x="3" dy="5.2">means</tspan></text></g>

<!-- Dislikes notes -->
<g id="ds1" transform="translate(1209,370)"><rect class="s" width="47" height="48"/><text class="tr"><tspan x="3" y="7">Confusing? User</tspan><tspan x="3" dy="5.2">page is</tspan><tspan x="3" dy="5.2">overwhelming,</tspan><tspan x="3" dy="5.2">inconsistent</tspan><tspan x="3" dy="5.2">format</tspan></text></g>
<g id="ds2" transform="translate(1266,370)"><rect class="s" width="47" height="48"/><text class="tr"><tspan x="3" y="7">Seems like a</tspan><tspan x="3" dy="5.2">whole lot of</tspan><tspan x="3" dy="5.2">information to</tspan><tspan x="3" dy="5.2">understand</tspan></text></g>
<g id="ds3" transform="translate(1323,370)"><rect class="b" width="47" height="48"/><text class="tr"><tspan x="3" y="7">Lots of scrolling</tspan></text></g>
<g id="ds4" transform="translate(1209,429)"><rect class="g" width="47" height="48"/><text class="tr"><tspan x="3" y="7">The layout was</tspan><tspan x="3" dy="5.2">overwhelming</tspan></text></g>
<g id="ds5" transform="translate(1266,429)"><rect class="g" width="47" height="48"/><text class="tr"><tspan x="3" y="7">Lots of</tspan><tspan x="3" dy="5.2">slideshows</tspan></text></g>
<g id="ds6" transform="translate(1323,429)"><rect class="g" width="47" height="48"/><text class="tr"><tspan x="3" y="7">Color contrast</tspan><tspan x="3" dy="5.2">was</tspan><tspan x="3" dy="5.2">overwhelming</tspan><tspan x="3" dy="5.2">when switching</tspan></text></g>
<g id="ds7" transform="translate(1209,489)"><rect class="s" width="47" height="48"/><text class="tr"><tspan x="3" y="7">Dislikes drop</tspan><tspan x="3" dy="5.2">down menu for</tspan><tspan x="3" dy="5.2">features, “too</tspan><tspan x="3" dy="5.2">much”</tspan></text></g>
<g id="ds8" transform="translate(1266,489)"><rect class="b" width="47" height="48"/><text class="tr"><tspan x="3" y="7">User-interface is</tspan><tspan x="3" dy="5.2">overwhelming</tspan></text></g>
<g id="ds9" transform="translate(1323,489)"><rect class="g" width="47" height="48"/><text class="tr"><tspan x="3" y="7">Disliked the</tspan><tspan x="3" dy="5.2">layout</tspan></text></g>

<!-- Ratings notes -->
<g id="rt1" transform="translate(885,641)"><rect class="s" width="38" height="38"/><text class="t"><tspan x="3" y="7">Scenario 1 rating:</tspan><tspan x="3" dy="4.5">1/5</tspan></text></g>
<g id="rt2" transform="translate(931,641)"><rect class="s" width="38" height="38"/><text class="t"><tspan x="3" y="7">Scenario 2 rating:</tspan><tspan x="3" dy="4.5">4-5/5</tspan></text></g>
<g id="rt3" transform="translate(976,641)"><rect class="s" width="38" height="38"/><text class="t"><tspan x="3" y="7">Scenario 3 rating:</tspan><tspan x="3" dy="4.5">3/5</tspan></text></g>
<g id="rt4" transform="translate(1020,641)"><rect class="s" width="38" height="38"/><text class="t"><tspan x="3" y="7">Overall</tspan><tspan x="3" dy="4.5">Experience?</tspan><tspan x="3" dy="4.5">3/5</tspan></text></g>
<g id="rt5" transform="translate(885,685)"><rect class="b" width="38" height="38"/><text class="t"><tspan x="3" y="7">Scenario 1 rating:</tspan><tspan x="3" dy="4.5">5/5</tspan></text></g>
<g id="rt6" transform="translate(931,685)"><rect class="b" width="38" height="38"/><text class="t"><tspan x="3" y="7">Scenario 2 rating:</tspan><tspan x="3" dy="4.5">5/5</tspan></text></g>
<g id="rt7" transform="translate(976,685)"><rect class="b" width="38" height="38"/><text class="t"><tspan x="3" y="7">Scenario 3 rating:</tspan><tspan x="3" dy="4.5">4/5</tspan></text></g>
<g id="rt8" transform="translate(1020,685)"><rect class="b" width="38" height="38"/><text class="t"><tspan x="3" y="7">Overall</tspan><tspan x="3" dy="4.5">experience:</tspan><tspan x="3" dy="4.5">4/5</tspan></text></g>
<g id="rt9" transform="translate(885,729)"><rect class="g" width="38" height="38"/><text class="t"><tspan x="3" y="7">Scenario 1 rating:</tspan><tspan x="3" dy="4.5">3/5</tspan></text></g>
<g id="rt10" transform="translate(931,729)"><rect class="g" width="38" height="38"/><text class="t"><tspan x="3" y="7">Scenario 2 rating:</tspan><tspan x="3" dy="4.5">3-4/5</tspan></text></g>
<g id="rt11" transform="translate(976,729)"><rect class="g" width="38" height="38"/><text class="t"><tspan x="3" y="7">Scenario 3 rating:</tspan><tspan x="3" dy="4.5">4/5</tspan></text></g>
<g id="rt12" transform="translate(1020,729)"><rect class="g" width="38" height="38"/><text class="t"><tspan x="3" y="7">Overall</tspan><tspan x="3" dy="4.5">experience:</tspan><tspan x="3" dy="4.5">4/5</tspan></text></g>
<g id="ry1" transform="translate(877,777)"><rect class="y" width="35" height="30"/><text class="t" text-anchor="middle"><tspan x="17.5" y="11">Scenario 1</tspan><tspan x="17.5" dy="4.5">Overall Rating:</tspan><tspan x="17.5" dy="4.5">3/5</tspan></text></g>
<g id="ry2" transform="translate(927,777)"><rect class="y" width="34" height="30"/><text class="t" text-anchor="middle"><tspan x="17" y="11">Scenario 2</tspan><tspan x="17" dy="4.5">Overall Rating:</tspan><tspan x="17" dy="4.5">4/5</tspan></text></g>
<g id="ry3" transform="translate(971,777)"><rect class="y" width="35" height="30"/><text class="t" text-anchor="middle"><tspan x="17.5" y="11">Scenario 3</tspan><tspan x="17.5" dy="4.5">Overall Rating:</tspan><tspan x="17.5" dy="4.5">4/5</tspan></text></g>
<g id="ry4" transform="translate(1018,777)"><rect class="y" width="34" height="30"/><text class="t" text-anchor="middle"><tspan x="17" y="11">Overall</tspan><tspan x="17" dy="4.5">Experience:</tspan><tspan x="17" dy="4.5">3/5</tspan></text></g>

<!-- Would like notes -->
<g id="wl1" transform="translate(1210,637)"><rect class="s" width="47" height="49"/><text class="tr"><tspan x="3" y="7">Would like to</tspan><tspan x="3" dy="5.2">divide the</tspan><tspan x="3" dy="5.2">features section</tspan><tspan x="3" dy="5.2">into four specific</tspan><tspan x="3" dy="5.2">categories</tspan></text></g>
<g id="wl2" transform="translate(1267,637)"><rect class="b" width="47" height="49"/><text class="tr"><tspan x="3" y="7">Would like a</tspan><tspan x="3" dy="5.2">miscellaneous</tspan><tspan x="3" dy="5.2">category</tspan></text></g>
<g id="wl3" transform="translate(1324,637)"><rect class="g" width="47" height="49"/><text class="tr"><tspan x="3" y="7">Would like clearer</tspan><tspan x="3" dy="5.2">language for</tspan><tspan x="3" dy="5.2">header/titles</tspan></text></g>
<g id="wl4" transform="translate(1210,691)"><rect class="s" width="47" height="49"/><text class="tr"><tspan x="3" y="7">Would like to join</tspan><tspan x="3" dy="5.2">the Discord</tspan><tspan x="3" dy="5.2">community to</tspan><tspan x="3" dy="5.2">contact/learn</tspan><tspan x="3" dy="5.2">more about World</tspan><tspan x="3" dy="5.2">Anvil</tspan></text></g>
<g id="wl5" transform="translate(1267,691)"><rect class="s" width="47" height="49"/><text class="tr"><tspan x="3" y="7">Would like to</tspan><tspan x="3" dy="5.2">know more about</tspan><tspan x="3" dy="5.2">how long the</tspan><tspan x="3" dy="5.2">website has been</tspan><tspan x="3" dy="5.2">running for</tspan></text></g>
<g id="wl6" transform="translate(1324,691)"><rect class="g" width="47" height="49"/><text class="tr"><tspan x="3" y="7">Would like</tspan><tspan x="3" dy="5.2">contact</tspan><tspan x="3" dy="5.2">information to be</tspan><tspan x="3" dy="5.2">located on the</tspan><tspan x="3" dy="5.2">top menu</tspan></text></g>
</svg>
